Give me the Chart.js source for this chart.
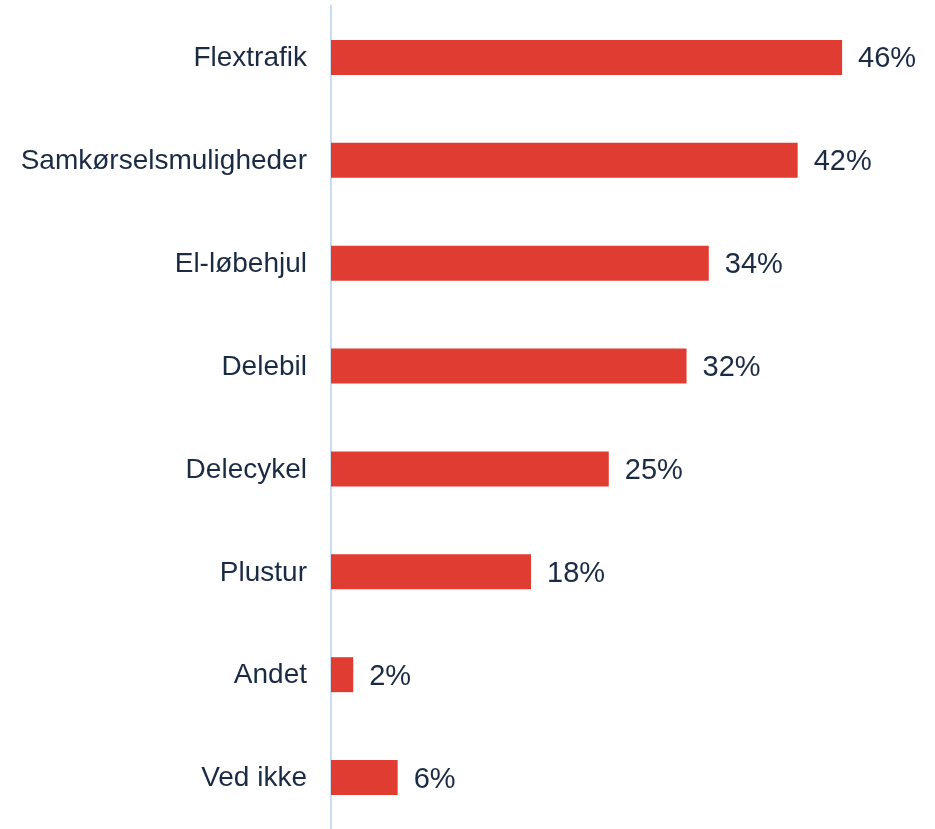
<!DOCTYPE html>
<html>
<head>
<meta charset="utf-8">
<script src="https://cdn.jsdelivr.net/npm/chart.js@4"></script>
<style>
  html, body { margin: 0; padding: 0; background: #fff; }
  #wrap { width: 935px; height: 829px; }
</style>
</head>
<body>
<div id="wrap"><canvas id="barChart" width="935" height="829"></canvas></div>
<script>
// Data
const categories = ['Flextrafik', 'Samkørselsmuligheder', 'El-løbehjul', 'Delebil', 'Delecykel', 'Plustur', 'Andet', 'Ved ikke'];
const values = [46, 42, 34, 32, 25, 18, 2, 6];

const textColor = '#1b2b44';

// tegner procent-tal efter hver bar
const valueLabels = {
    id: 'valueLabels',
    afterDatasetsDraw(chart) {
        const ctx = chart.ctx;
        const meta = chart.getDatasetMeta(0);
        ctx.save();
        ctx.font = '29px "Liberation Sans", Arial, sans-serif';
        ctx.fillStyle = textColor;
        ctx.textAlign = 'left';
        ctx.textBaseline = 'middle';
        meta.data.forEach((bar, i) => {
            ctx.fillText(values[i] + '%', bar.x + 16, bar.y + 2);
        });
        ctx.restore();
    }
};

new Chart(document.getElementById('barChart'), {
    type: 'bar',
    data: {
        labels: categories,
        datasets: [{
            data: values,
            backgroundColor: '#e03c31',
            barPercentage: 0.34,
            categoryPercentage: 1
        }]
    },
    options: {
        indexAxis: 'y',
        responsive: false,
        animation: false,
        layout: { padding: { top: 6, right: 4, bottom: 0, left: 0 } },
        plugins: {
            legend: { display: false },
            tooltip: { enabled: false }
        },
        scales: {
            x: {
                display: false,
                min: 0,
                max: 54
            },
            y: {
                grid: { display: false },
                border: { display: true, color: '#c8dcef', width: 2 },
                ticks: {
                    color: textColor,
                    padding: 16,
                    labelOffset: 1,
                    font: { family: '"Liberation Sans", Arial, sans-serif', size: 28 }
                },
                afterFit(scale) {
                    scale.width = 331;
                    scale.paddingTop = 0;
                    scale.paddingBottom = 0;
                }
            }
        }
    },
    plugins: [valueLabels]
});
</script>
</body>
</html>
